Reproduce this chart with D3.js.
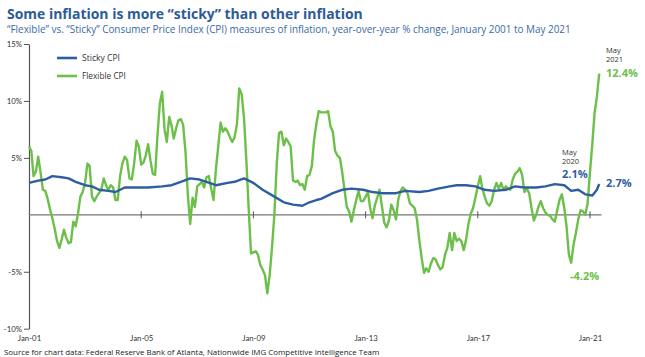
<!DOCTYPE html>
<html>
<head>
<meta charset="utf-8">
<script src="https://cdn.jsdelivr.net/npm/d3@7"></script>
<style>
  html, body { margin: 0; padding: 0; background: #fff; }
  svg { display: block; font-family: "Open Sans", Lato, sans-serif; }
</style>
</head>
<body>
<svg id="chart" width="645" height="357"></svg>
<script>
// ---- Data ----
const titleText = "Some inflation is more \u201csticky\u201d than other inflation";
const subtitleText = "\u201cFlexible\u201d vs. \u201cSticky\u201d Consumer Price Index (CPI) measures of inflation, year-over-year % change, January 2001 to May 2021";
const sourceText = "Source for chart data: Federal Reserve Bank of Atlanta, Nationwide IMG Competitive Intelligence Team";

const seriesNames = ["Sticky CPI", "Flexible CPI"];
const startMonth = "2001-01";

// Flexible CPI, monthly from Jan 2001 to May 2021 (% y/y)
const flexibleValues = [
  6.0, 5.6, 3.4, 3.8, 5.1, 3.7, 2.2, 2.1, 1.4, 0.5, -0.3, -1.2,
  -2.3, -2.9, -2.2, -1.3, -2.0, -2.5, -2.4, -0.6, -1.0, 0.1, 1.6, 2.0,
  2.8, 4.5, 4.3, 1.6, 1.2, 1.6, 1.9, 2.2, 3.2, 2.6, 2.2, 2.6,
  2.4, 1.3, 1.3, 3.4, 4.5, 5.1, 4.8, 3.2, 3.1, 4.5, 6.5, 6.0,
  4.4, 4.6, 5.2, 6.2, 4.8, 3.6, 3.5, 7.0, 9.8, 10.8, 7.5, 6.4,
  8.6, 7.8, 6.7, 7.6, 8.3, 8.4, 7.9, 5.5, 1.7, -0.8, 1.5, 0.7,
  2.5, 2.7, 2.9, 2.4, 3.3, 3.4, 2.3, 1.3, 4.0, 6.0, 8.1, 7.3,
  7.6, 7.3, 6.8, 6.4, 6.8, 8.0, 11.1, 10.6, 8.5, 4.8, 0.5, -3.4,
  -3.3, -3.2, -3.5, -4.4, -4.8, -5.3, -6.9, -5.3, -2.8, 0.0, 4.5, 7.2,
  7.3, 6.1, 6.7, 6.4, 6.0, 3.0, 2.9, 3.0, 2.6, 2.7, 2.2, 3.4,
  3.5, 4.3, 6.5, 8.0, 9.1, 9.0, 9.0, 9.0, 9.1, 7.8, 7.3, 5.6,
  5.2, 5.0, 3.8, 2.2, 0.7, 0.3, -0.6, 0.4, 1.3, 2.1, 1.2, 1.2,
  1.6, 2.0, 0.6, -0.3, 0.8, 1.5, 2.2, 0.8, -0.7, -1.1, -0.5, 0.9,
  0.4, -0.4, 1.3, 2.1, 2.4, 2.2, 1.9, 1.0, 0.8, 0.6, -0.4, -2.2,
  -3.8, -5.1, -4.7, -5.0, -4.3, -3.8, -3.9, -4.4, -4.8, -4.6, -3.5, -2.9,
  -1.6, -3.1, -1.6, -2.3, -2.1, -2.3, -3.1, -2.2, -0.8, 0.1, 0.6, 1.5,
  2.5, 3.4, 2.3, 1.6, 1.0, 0.8, 1.2, 2.2, 2.8, 2.3, 2.8, 2.2,
  2.5, 2.3, 2.2, 3.1, 3.6, 3.8, 4.1, 3.5, 2.0, 2.3, 1.9, 0.6,
  -0.5, 0.0, 0.7, 1.2, 0.6, 0.2, 0.0, -0.1, -0.4, -0.6, 0.4, 1.3,
  1.8, 0.6, -1.0, -3.5, -4.2, -2.6, -1.6, -0.4, 0.4, 0.3, 0.0, 1.0,
  3.8, 6.3, 8.9, 10.4, 12.4
];

// Sticky CPI, read at these months after Jan 2001
const stickyMonthOffsets = [0, 4, 7, 10, 14, 17, 20, 24, 27, 30, 34, 37, 41, 45, 51, 57, 61, 65, 69, 73,
  76, 80, 85, 88, 92, 96, 100, 105, 109, 113, 117, 120, 123, 125, 130, 134, 138, 143, 147, 151,
  157, 161, 167, 171, 175, 180, 183, 187, 191, 195, 199, 204, 208, 212, 217, 221, 225, 229, 232, 235,
  238, 241, 243, 244];
const stickyValues = [2.8, 3.0, 3.1, 3.4, 3.3, 3.2, 2.9, 2.6, 2.5, 2.2, 2.1, 2.0, 2.4, 2.4, 2.4, 2.5, 2.6, 2.9, 3.2, 3.1,
  2.9, 2.6, 2.8, 2.9, 3.2, 2.8, 2.2, 1.6, 1.1, 0.9, 0.8, 1.1, 1.3, 1.4, 1.9, 2.2, 2.3, 2.2, 2.0, 1.9,
  1.9, 2.1, 2.0, 2.1, 2.3, 2.5, 2.6, 2.6, 2.5, 2.2, 2.1, 2.2, 2.5, 2.4, 2.4, 2.5, 2.7, 2.6, 2.1, 2.2,
  1.8, 1.7, 2.2, 2.7];

const yTickValues = [15, 10, 5, -5, -10];
const yTickLabels = ["15%", "10%", "5%", "-5%", "-10%"];
const xTickYears = [2001, 2005, 2009, 2013, 2017, 2021];
const xTickLabels = ["Jan-01", "Jan-05", "Jan-09", "Jan-13", "Jan-17", "Jan-21"];

// Annotations
const annotations = [
  { series: "Flexible CPI", month: 244, header: ["May", "2021"], label: "12.4%" },
  { series: "Sticky CPI", month: 232, header: ["May", "2020"], label: "2.1%" },
  { series: "Sticky CPI", month: 244, header: [], label: "2.7%" },
  { series: "Flexible CPI", month: 232, header: [], label: "-4.2%" }
];

// ---- Layout / style ----
const colors = { "Sticky CPI": "#2e5e9f", "Flexible CPI": "#6cc04a" };
const titleColor = "#2d5b96";
const axisColor = "#555";

const svg = d3.select("#chart");
const parseMonth = d3.timeParse("%Y-%m");
const t0 = parseMonth(startMonth);
const monthDate = m => d3.timeMonth.offset(t0, m);

const x = d3.scaleTime()
  .domain([new Date(2001, 0, 1), new Date(2021, 0, 1)])
  .range([29, 590]);
const y = d3.scaleLinear().domain([-10, 15]).range([328.7, 44]);

const flexData = flexibleValues.map((v, i) => ({ date: monthDate(i), value: v }));
const stickyData = stickyMonthOffsets.map((m, i) => ({ date: monthDate(m), value: stickyValues[i] }));

// fit a text element to a target width by adjusting font size
function fitWidth(sel, base, target) {
  sel.attr("font-size", base);
  const w = sel.node().getComputedTextLength();
  if (w > 0) sel.attr("font-size", base * target / w);
  return sel;
}

// Title & subtitle
const title = svg.append("text").attr("x", 7).attr("y", 18.5)
  .attr("fill", titleColor).attr("font-weight", 700)
  .text(titleText);
fitWidth(title, 14, 356);
const sub = svg.append("text").attr("x", 7).attr("y", 32.5)
  .attr("fill", "#3b6aa6")
  .text(subtitleText);
fitWidth(sub, 9, 564);

// Y axis
const yAxis = d3.axisLeft(y)
  .tickValues(yTickValues)
  .tickFormat((d, i) => yTickLabels[i])
  .tickSize(5).tickSizeOuter(0).tickPadding(2);
const gy = svg.append("g").attr("transform", "translate(29,0)").call(yAxis);
gy.select(".domain").attr("stroke", axisColor).attr("stroke-width", 1.2);
gy.selectAll(".tick line").attr("stroke", axisColor);
gy.selectAll(".tick text").attr("fill", "#333").attr("font-size", 7.8)
  .attr("font-family", "Lato, sans-serif");

// Zero line
svg.append("line")
  .attr("x1", x(new Date(2001, 0, 1))).attr("x2", x(new Date(2021, 5, 1)))
  .attr("y1", y(0)).attr("y2", y(0))
  .attr("stroke", "#777").attr("stroke-width", 1.2);
// ticks on zero line
svg.append("g").selectAll("line")
  .data(xTickYears.slice(1))
  .join("line")
  .attr("x1", d => x(new Date(d, 0, 1))).attr("x2", d => x(new Date(d, 0, 1)))
  .attr("y1", y(0) - 3.5).attr("y2", y(0) + 3.5)
  .attr("stroke", "#555").attr("stroke-width", 1);

// X labels
const xAxis = d3.axisBottom(x)
  .tickValues(xTickYears.map(d => new Date(d, 0, 1)))
  .tickFormat((d, i) => xTickLabels[i])
  .tickSize(0).tickPadding(6);
const gx = svg.append("g").attr("transform", "translate(0,329)").call(xAxis);
gx.select(".domain").remove();
gx.selectAll(".tick text").attr("fill", "#333").attr("font-size", 7.8)
  .attr("font-family", "Lato, sans-serif");

// Lines
const line = d3.line().x(d => x(d.date)).y(d => y(d.value));
svg.append("path").datum(flexData)
  .attr("fill", "none").attr("stroke", colors["Flexible CPI"])
  .attr("stroke-width", 2.4).attr("stroke-linejoin", "round")
  .attr("d", line);
svg.append("path").datum(stickyData)
  .attr("fill", "none").attr("stroke", colors["Sticky CPI"])
  .attr("stroke-width", 2.4).attr("stroke-linejoin", "round")
  .attr("d", line);

// Legend
const legend = svg.append("g");
seriesNames.forEach((name, i) => {
  const ly = 58 + i * 18;
  legend.append("line").attr("x1", 57).attr("x2", 77).attr("y1", ly).attr("y2", ly)
    .attr("stroke", colors[name]).attr("stroke-width", 2.6);
  const t = legend.append("text").attr("x", 82).attr("y", ly + 3)
    .attr("fill", "#333").text(name);
  fitWidth(t, 8, i === 0 ? 38 : 44);
});

// Annotations
const annPos = [
  { hx: 606, hy: 53.3, lx: 606, ly: 77.3 },
  { hx: 562, hy: 155, lx: 562, ly: 178 },
  { hx: 606, hy: 0, lx: 606, ly: 187.3 },
  { hx: 570, hy: 0, lx: 570, ly: 280 }
];
annotations.forEach((a, i) => {
  const p = annPos[i];
  a.header.forEach((h, j) => {
    svg.append("text").attr("x", p.hx).attr("y", p.hy + j * 9)
      .attr("font-size", 7.5).attr("fill", "#333").text(h);
  });
  svg.append("text").attr("x", p.lx).attr("y", p.ly)
    .attr("font-size", 11).attr("font-weight", 700)
    .attr("fill", colors[a.series]).text(a.label);
});

// Source
const src = svg.append("text").attr("x", 4).attr("y", 355)
  .attr("fill", "#222").text(sourceText);
fitWidth(src, 8, 376);
</script>
</body>
</html>
